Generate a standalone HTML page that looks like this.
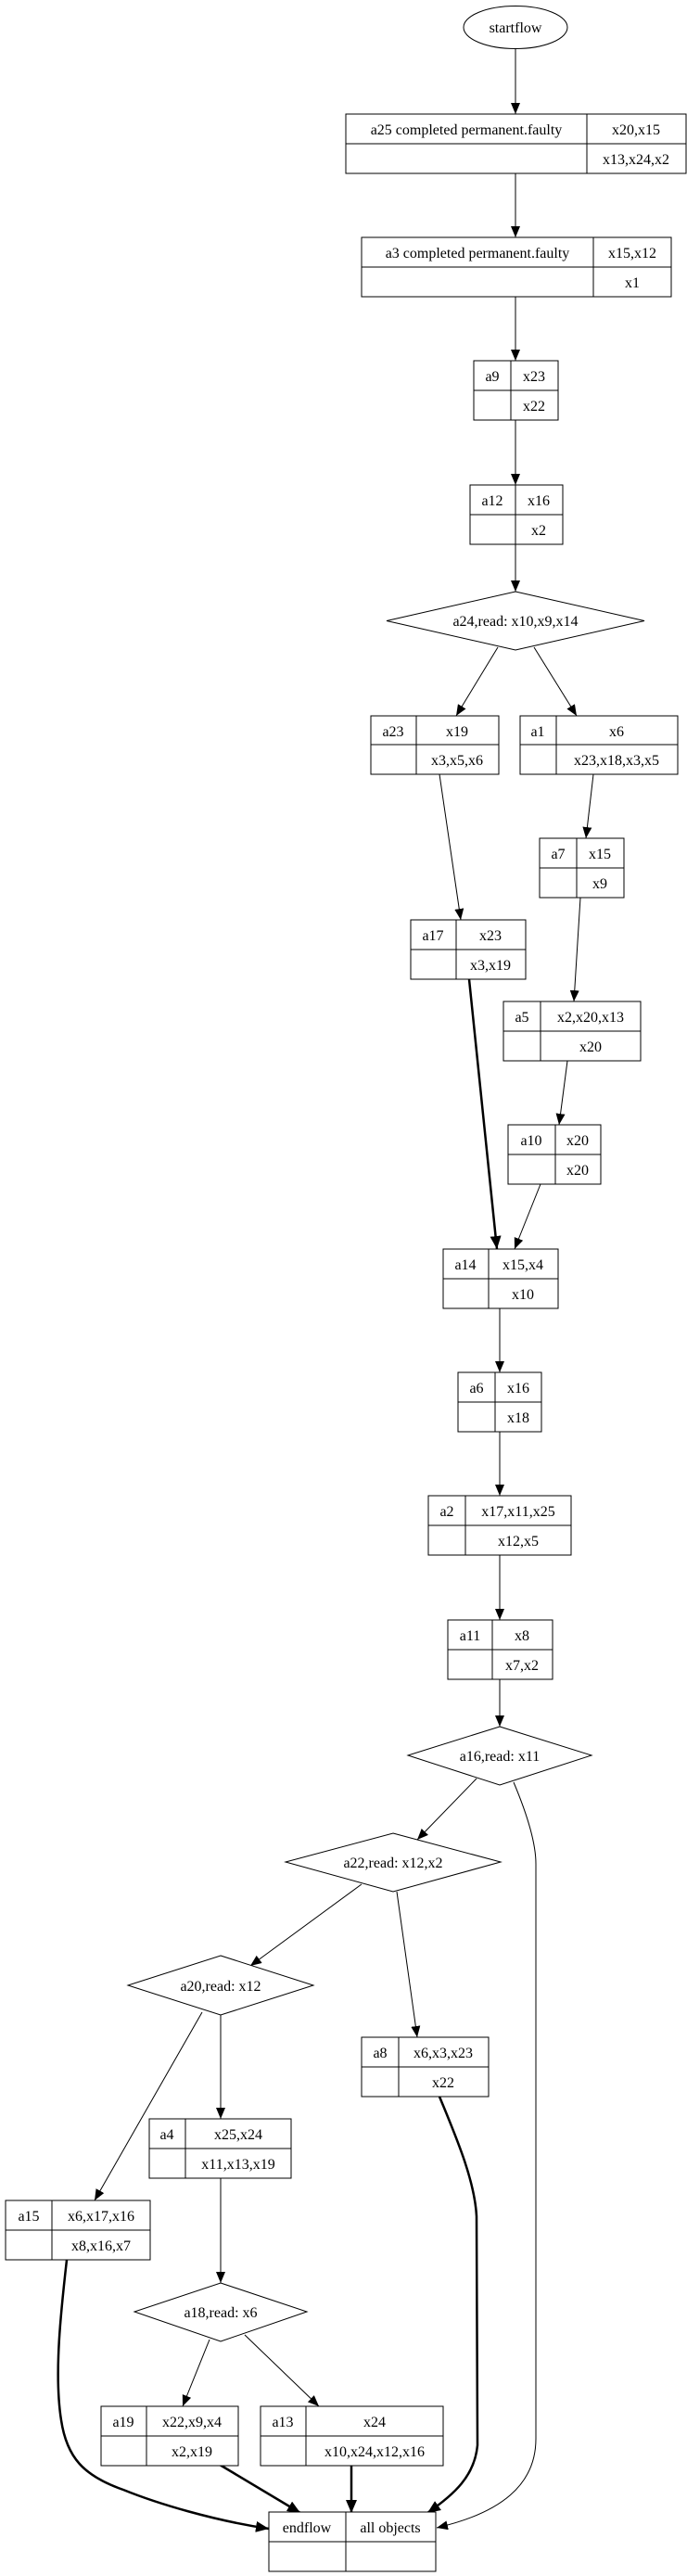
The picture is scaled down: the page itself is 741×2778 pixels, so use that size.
<!DOCTYPE html>
<html><head><meta charset="utf-8"><style>
html,body{margin:0;padding:0;background:#fff}
svg{display:block}
text{font-family:"Liberation Serif",serif;font-size:16px;fill:#000;text-anchor:middle}
rect,polygon.d,ellipse{fill:#fff;stroke:#000;stroke-width:1}
line.g,path.g{stroke:#000;stroke-width:1;fill:none}
path.t{stroke:#000;stroke-width:2.5;fill:none}
</style></head><body>
<svg width="741" height="2778" viewBox="0 0 741 2778" xmlns="http://www.w3.org/2000/svg">
<defs>
<marker id="ah" markerUnits="userSpaceOnUse" markerWidth="14" markerHeight="10" refX="12" refY="5" orient="auto"><path d="M0,0 L12,5 L0,10 Z" fill="#000"/></marker>
<marker id="at" markerUnits="userSpaceOnUse" markerWidth="16" markerHeight="12" refX="14" refY="6" orient="auto"><path d="M0,0 L14,6 L0,12 Z" fill="#000"/></marker>
</defs>

<!-- edges -->
<g>
<line class="g" x1="556" y1="53" x2="556" y2="123" marker-end="url(#ah)"/>
<line class="g" x1="556" y1="187" x2="556" y2="256" marker-end="url(#ah)"/>
<line class="g" x1="556" y1="320" x2="556" y2="389" marker-end="url(#ah)"/>
<line class="g" x1="556" y1="453" x2="556" y2="523" marker-end="url(#ah)"/>
<line class="g" x1="556" y1="587" x2="556" y2="638" marker-end="url(#ah)"/>
<line class="g" x1="537" y1="698" x2="492" y2="772" marker-end="url(#ah)"/>
<line class="g" x1="576" y1="698" x2="622" y2="772" marker-end="url(#ah)"/>
<line class="g" x1="474" y1="835" x2="497" y2="992" marker-end="url(#ah)"/>
<line class="g" x1="640" y1="835" x2="632" y2="904" marker-end="url(#ah)"/>
<line class="g" x1="626" y1="968" x2="619" y2="1080" marker-end="url(#ah)"/>
<line class="g" x1="612" y1="1144" x2="603" y2="1213" marker-end="url(#ah)"/>
<path class="t" d="M506,1056 L536,1347" marker-end="url(#at)"/>
<line class="g" x1="583" y1="1277" x2="555" y2="1347" marker-end="url(#ah)"/>
<line class="g" x1="539" y1="1411" x2="539" y2="1480" marker-end="url(#ah)"/>
<line class="g" x1="539" y1="1544" x2="539" y2="1613" marker-end="url(#ah)"/>
<line class="g" x1="539" y1="1677" x2="539" y2="1747" marker-end="url(#ah)"/>
<line class="g" x1="539" y1="1811" x2="539" y2="1862" marker-end="url(#ah)"/>
<line class="g" x1="514" y1="1918" x2="450" y2="1984" marker-end="url(#ah)"/>
<path class="g" d="M554,1922 C570,1960 578,1990 578,2010 L578,2630 C578,2680 540,2710 471,2726" marker-end="url(#ah)"/>
<line class="g" x1="390" y1="2032" x2="270" y2="2120" marker-end="url(#ah)"/>
<line class="g" x1="428" y1="2040" x2="450" y2="2197" marker-end="url(#ah)"/>
<line class="g" x1="238" y1="2173" x2="238" y2="2285" marker-end="url(#ah)"/>
<line class="g" x1="218" y1="2170" x2="102" y2="2373" marker-end="url(#ah)"/>
<path class="t" d="M474,2261 C490,2300 512,2350 514,2390 L515,2637 C512,2670 490,2690 461,2710" marker-end="url(#at)"/>
<line class="g" x1="238" y1="2349" x2="238" y2="2462" marker-end="url(#ah)"/>
<line class="g" x1="226" y1="2523" x2="197" y2="2595" marker-end="url(#ah)"/>
<line class="g" x1="264" y1="2518" x2="344" y2="2595" marker-end="url(#ah)"/>
<path class="t" d="M237,2658 L324,2710" marker-end="url(#at)"/>
<path class="t" d="M379,2659 L379,2710" marker-end="url(#at)"/>
<path class="t" d="M72,2437 C66,2490 58,2560 66,2610 C72,2650 90,2670 133,2685 C170,2700 230,2718 290,2727" marker-end="url(#at)"/>
</g>

<!-- startflow -->
<ellipse cx="556" cy="29.5" rx="56" ry="23"/>
<text x="556" y="35">startflow</text>

<!-- diamonds -->
<polygon class="d" points="556,638 695,669.5 556,701 417,669.5"/>
<text x="556" y="675">a24,read: x10,x9,x14</text>
<polygon class="d" points="539,1862 638,1893 539,1925 440,1893"/>
<text x="539" y="1899">a16,read: x11</text>
<polygon class="d" points="424,1977 540,2008 424,2040 308,2008"/>
<text x="424" y="2014">a22,read: x12,x2</text>
<polygon class="d" points="238,2109 338,2141 238,2173 138,2141"/>
<text x="238" y="2147">a20,read: x12</text>
<polygon class="d" points="238,2462 331,2493 238,2525 145,2493"/>
<text x="238" y="2499">a18,read: x6</text>

<!-- records -->
<g>
<rect x="373" y="123" width="367" height="64"/><line class="g" x1="633" y1="123" x2="633" y2="187"/><line class="g" x1="373" y1="155" x2="740" y2="155"/>
<text x="503" y="145">a25  completed permanent.faulty</text><text x="686" y="145">x20,x15</text><text x="686" y="177">x13,x24,x2</text>

<rect x="390" y="256" width="334" height="64"/><line class="g" x1="640" y1="256" x2="640" y2="320"/><line class="g" x1="390" y1="288" x2="724" y2="288"/>
<text x="515" y="278">a3 completed permanent.faulty</text><text x="682" y="278">x15,x12</text><text x="682" y="310">x1</text>

<rect x="511" y="389" width="91" height="64"/><line class="g" x1="551" y1="389" x2="551" y2="453"/><line class="g" x1="511" y1="421" x2="602" y2="421"/>
<text x="531" y="411">a9</text><text x="576" y="411">x23</text><text x="576" y="443">x22</text>

<rect x="507" y="523" width="100" height="64"/><line class="g" x1="556" y1="523" x2="556" y2="587"/><line class="g" x1="507" y1="555" x2="607" y2="555"/>
<text x="531" y="545">a12</text><text x="581" y="545">x16</text><text x="581" y="577">x2</text>

<rect x="400" y="772" width="138" height="63"/><line class="g" x1="449" y1="772" x2="449" y2="835"/><line class="g" x1="400" y1="803" x2="538" y2="803"/>
<text x="424" y="794">a23</text><text x="493" y="794">x19</text><text x="493" y="825">x3,x5,x6</text>

<rect x="561" y="772" width="170" height="63"/><line class="g" x1="600" y1="772" x2="600" y2="835"/><line class="g" x1="561" y1="803" x2="731" y2="803"/>
<text x="580" y="794">a1</text><text x="665" y="794">x6</text><text x="665" y="825">x23,x18,x3,x5</text>

<rect x="582" y="904" width="91" height="64"/><line class="g" x1="622" y1="904" x2="622" y2="968"/><line class="g" x1="582" y1="936" x2="673" y2="936"/>
<text x="602" y="926">a7</text><text x="647" y="926">x15</text><text x="647" y="958">x9</text>

<rect x="443" y="992" width="124" height="64"/><line class="g" x1="492" y1="992" x2="492" y2="1056"/><line class="g" x1="443" y1="1024" x2="567" y2="1024"/>
<text x="467" y="1014">a17</text><text x="529" y="1014">x23</text><text x="529" y="1046">x3,x19</text>

<rect x="543" y="1080" width="148" height="64"/><line class="g" x1="583" y1="1080" x2="583" y2="1144"/><line class="g" x1="543" y1="1112" x2="691" y2="1112"/>
<text x="563" y="1102">a5</text><text x="637" y="1102">x2,x20,x13</text><text x="637" y="1134">x20</text>

<rect x="548" y="1213" width="100" height="64"/><line class="g" x1="599" y1="1213" x2="599" y2="1277"/><line class="g" x1="548" y1="1245" x2="648" y2="1245"/>
<text x="573" y="1235">a10</text><text x="623" y="1235">x20</text><text x="623" y="1267">x20</text>

<rect x="478" y="1347" width="124" height="64"/><line class="g" x1="527" y1="1347" x2="527" y2="1411"/><line class="g" x1="478" y1="1379" x2="602" y2="1379"/>
<text x="502" y="1369">a14</text><text x="564" y="1369">x15,x4</text><text x="564" y="1401">x10</text>

<rect x="494" y="1480" width="90" height="64"/><line class="g" x1="534" y1="1480" x2="534" y2="1544"/><line class="g" x1="494" y1="1512" x2="584" y2="1512"/>
<text x="514" y="1502">a6</text><text x="559" y="1502">x16</text><text x="559" y="1534">x18</text>

<rect x="462" y="1613" width="154" height="64"/><line class="g" x1="502" y1="1613" x2="502" y2="1677"/><line class="g" x1="462" y1="1645" x2="616" y2="1645"/>
<text x="482" y="1635">a2</text><text x="559" y="1635">x17,x11,x25</text><text x="559" y="1667">x12,x5</text>

<rect x="483" y="1747" width="113" height="64"/><line class="g" x1="531" y1="1747" x2="531" y2="1811"/><line class="g" x1="483" y1="1779" x2="596" y2="1779"/>
<text x="507" y="1769">a11</text><text x="563" y="1769">x8</text><text x="563" y="1801">x7,x2</text>

<rect x="390" y="2197" width="137" height="64"/><line class="g" x1="430" y1="2197" x2="430" y2="2261"/><line class="g" x1="390" y1="2229" x2="527" y2="2229"/>
<text x="410" y="2219">a8</text><text x="478" y="2219">x6,x3,x23</text><text x="478" y="2251">x22</text>

<rect x="161" y="2285" width="153" height="64"/><line class="g" x1="200" y1="2285" x2="200" y2="2349"/><line class="g" x1="161" y1="2317" x2="314" y2="2317"/>
<text x="180" y="2307">a4</text><text x="257" y="2307">x25,x24</text><text x="257" y="2339">x11,x13,x19</text>

<rect x="6" y="2373" width="156" height="64"/><line class="g" x1="56" y1="2373" x2="56" y2="2437"/><line class="g" x1="6" y1="2405" x2="162" y2="2405"/>
<text x="31" y="2395">a15</text><text x="109" y="2395">x6,x17,x16</text><text x="109" y="2427">x8,x16,x7</text>

<rect x="109" y="2595" width="148" height="64"/><line class="g" x1="158" y1="2595" x2="158" y2="2659"/><line class="g" x1="109" y1="2627" x2="257" y2="2627"/>
<text x="133" y="2617">a19</text><text x="207" y="2617">x22,x9,x4</text><text x="207" y="2649">x2,x19</text>

<rect x="281" y="2595" width="197" height="64"/><line class="g" x1="330" y1="2595" x2="330" y2="2659"/><line class="g" x1="281" y1="2627" x2="478" y2="2627"/>
<text x="305" y="2617">a13</text><text x="404" y="2617">x24</text><text x="404" y="2649">x10,x24,x12,x16</text>

<rect x="290" y="2709" width="180" height="64"/><line class="g" x1="373" y1="2709" x2="373" y2="2773"/><line class="g" x1="290" y1="2741" x2="470" y2="2741"/>
<text x="331" y="2731">endflow</text><text x="421" y="2731">all objects</text>
</g>
</svg>
</body></html>
